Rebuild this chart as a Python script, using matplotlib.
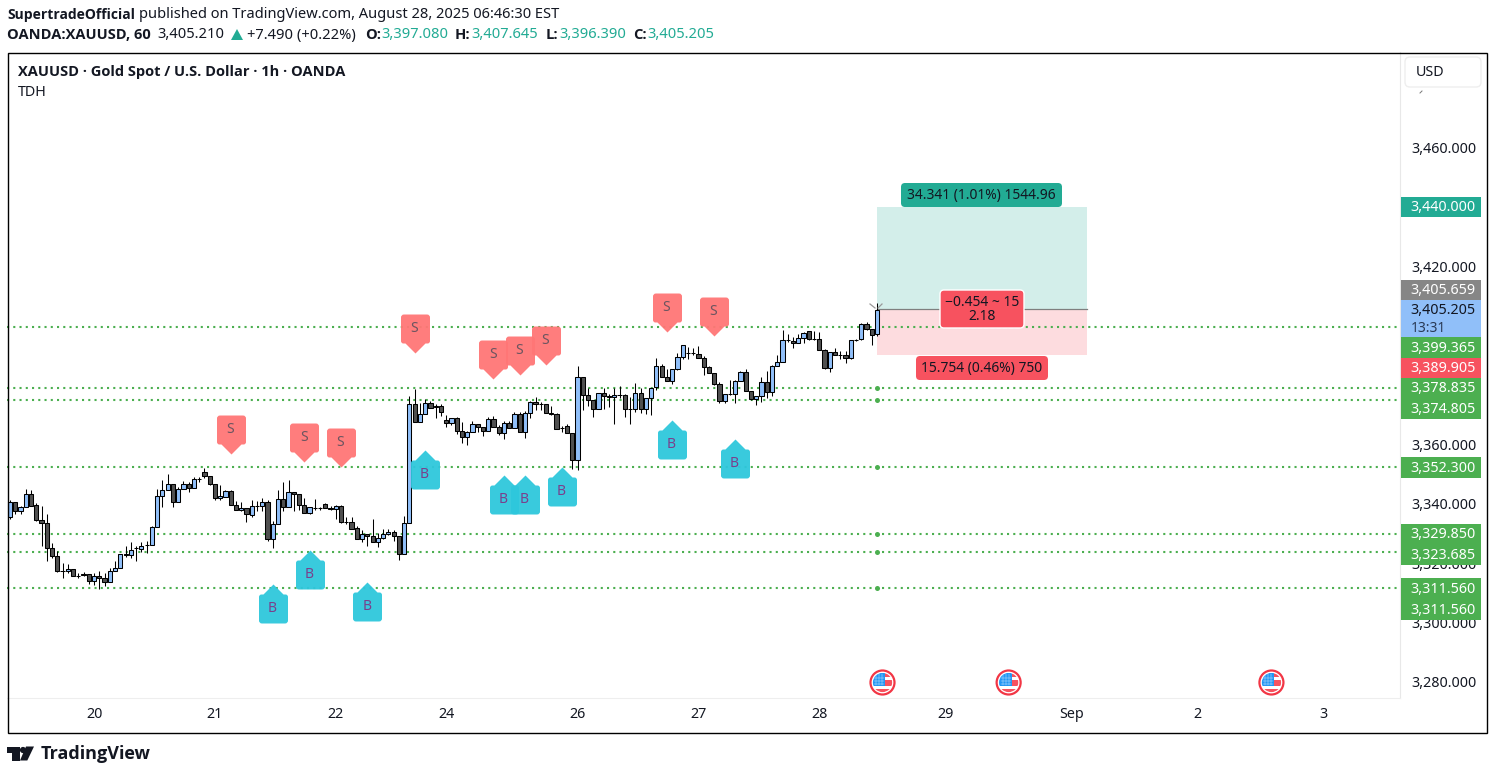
import matplotlib
matplotlib.use("Agg")
import matplotlib.pyplot as plt
from matplotlib.patches import Rectangle, FancyBboxPatch, Circle, Polygon
from matplotlib.path import Path

plt.rcParams['font.family'] = ['Noto Sans', 'DejaVu Sans']

opens = [3335.5,3340.6,3337.5,3338.8,3343.2,3339.5,3334.5,3333.5,3325.1,3322.4,3317.4,3317.4,3318.0,3315.7,3316.4,3316.4,3314.0,3315.7,3315.0,3313.7,3317.4,3318.4,3323.1,3322.8,3325.2,3324.8,3326.1,3326.1,3332.2,3342.6,3344.6,3346.6,3340.6,3344.9,3346.6,3345.3,3348.3,3350.6,3349.3,3346.6,3341.9,3342.2,3344.2,3339.5,
         3337.9,3338.6,3336.2,3339.2,3339.2,3340.6,3328.1,3333.2,3341.6,3338.9,3343.9,3343.3,3339.6,3336.9,3338.7,3338.7,3339.9,3338.6,3338.2,3339.2,3333.7,3333.7,3331.7,3328.1,3329.8,3329.1,3327.1,3328.5,3329.8,3330.5,3329.1,3323.1,3333.5,3373.5,3367.5,3370.1,3373.8,3372.8,3372.8,3368.1,3367.1,3368.8,3364.4,3362.4,
         3364.0,3366.8,3365.8,3364.4,3368.5,3365.8,3363.8,3367.1,3365.5,3370.2,3364.1,3370.5,3374.2,3373.5,3373.5,3370.5,3370.2,3365.5,3366.1,3363.8,3354.7,3382.6,3376.5,3374.9,3371.8,3377.2,3376.2,3375.9,3376.5,3376.5,3371.8,3371.8,3377.2,3371.8,3375.5,3379.2,3386.3,3382.6,3381.2,3385.3,
         3389.3,3390.7,3390.7,3390.3,3389.0,3386.0,3383.9,3380.2,3374.5,3376.9,3376.9,3381.2,3384.3,3377.9,3375.2,3376.2,3380.9,3377.6,3386.3,3387.6,3395.0,3394.7,3394.0,3395.7,3398.0,3395.4,3395.4,3391.7,3385.6,3391.0,3390.0,3390.0,3389.0,3395.0,3395.4,3400.4,3398.7,3397.08]
highs = [3341.4,3340.6,3339.3,3344.9,3344.7,3340.2,3339.2,3336.5,3326.7,3324.1,3320.1,3319.7,3318.0,3316.7,3317.0,3316.4,3316.8,3317.4,3316.7,3318.4,3320.8,3323.1,3325.9,3327.2,3325.8,3327.2,3327.6,3332.5,3344.8,3347.9,3350.0,3346.6,3345.7,3347.7,3347.2,3349.1,3349.1,3352.1,3349.3,3346.6,3346.4,3344.7,3344.6,3341.0,
         3340.5,3338.6,3341.2,3341.0,3341.9,3341.2,3334.3,3344.6,3347.4,3348.1,3343.9,3343.3,3341.9,3338.9,3341.6,3339.0,3340.3,3339.3,3339.6,3339.6,3335.4,3335.4,3332.6,3331.2,3329.8,3334.9,3330.2,3331.5,3331.5,3331.2,3329.1,3335.9,3376.3,3378.5,3373.8,3375.2,3374.6,3373.5,3373.5,3369.8,3369.0,3369.2,3367.5,3364.5,
         3367.9,3366.8,3365.8,3369.3,3369.6,3366.6,3367.9,3367.9,3370.9,3370.9,3371.3,3374.6,3376.0,3374.2,3373.5,3372.8,3370.5,3366.1,3366.8,3363.8,3386.4,3382.6,3379.1,3374.9,3377.2,3379.1,3376.9,3379.1,3379.6,3376.9,3375.8,3380.5,3379.1,3375.5,3378.9,3389.0,3387.0,3385.3,3385.3,3390.9,
         3393.3,3392.6,3392.3,3393.0,3389.8,3386.5,3383.9,3380.9,3376.9,3381.6,3381.6,3384.7,3385.3,3377.9,3376.2,3382.7,3384.7,3386.7,3390.1,3398.4,3397.3,3396.1,3397.0,3397.8,3398.0,3398.2,3397.8,3392.0,3391.0,3392.3,3391.4,3391.4,3395.0,3395.4,3400.7,3401.3,3398.7,3407.645]
lows = [3334.7,3336.4,3336.7,3338.8,3339.2,3334.1,3325.7,3320.8,3321.7,3317.0,3314.9,3316.6,3315.7,3314.9,3315.7,3313.0,3312.7,3311.4,3312.3,3313.7,3317.4,3318.4,3322.2,3321.7,3320.8,3323.6,3323.5,3326.1,3332.2,3338.8,3344.6,3338.8,3340.6,3344.9,3343.8,3345.3,3347.4,3348.6,3346.4,3341.2,3341.2,3342.1,3339.5,3337.9,
        3337.4,3334.0,3335.4,3337.7,3337.7,3327.4,3325.0,3333.2,3337.7,3338.9,3337.4,3338.0,3336.9,3336.5,3337.9,3337.9,3338.6,3337.9,3334.9,3333.6,3333.2,3331.5,3328.1,3327.0,3325.7,3327.1,3325.3,3328.1,3329.3,3327.6,3321.2,3323.1,3333.5,3367.5,3367.5,3370.1,3372.2,3368.7,3369.6,3365.7,3366.4,3363.4,3360.5,3359.7,
        3364.0,3364.0,3362.9,3364.4,3365.8,3363.1,3361.8,3365.5,3365.5,3364.1,3362.0,3369.0,3371.6,3371.6,3370.5,3369.9,3365.1,3364.3,3363.8,3351.7,3351.3,3371.5,3372.8,3369.3,3371.8,3371.8,3372.4,3367.0,3375.5,3369.3,3367.0,3370.9,3370.6,3370.2,3369.9,3378.4,3382.6,3381.2,3380.2,3384.9,
        3388.6,3388.6,3390.1,3389.0,3383.3,3383.9,3379.9,3373.9,3373.9,3376.5,3373.9,3381.2,3377.9,3374.9,3373.4,3374.1,3375.5,3376.2,3386.3,3387.6,3394.6,3392.3,3394.0,3394.0,3395.1,3395.0,3391.7,3385.3,3384.5,3390.0,3388.8,3387.4,3388.8,3394.8,3395.0,3398.4,3393.5,3396.39]
closes = [3340.6,3337.5,3338.8,3343.2,3339.2,3334.5,3333.5,3325.1,3322.4,3317.4,3317.3,3318.0,3315.7,3315.7,3316.0,3314.0,3315.7,3315.0,3313.7,3317.4,3318.4,3323.1,3322.8,3324.4,3325.2,3325.8,3326.1,3332.2,3342.6,3344.6,3346.6,3340.6,3344.9,3346.6,3345.3,3348.3,3348.3,3349.3,3346.6,3341.9,3342.6,3344.2,3339.5,3337.9,
          3338.6,3336.5,3339.2,3339.2,3340.6,3328.1,3333.2,3341.6,3338.9,3343.9,3343.3,3339.6,3336.9,3338.9,3338.7,3338.7,3338.6,3338.2,3339.2,3333.7,3333.7,3331.5,3328.1,3329.8,3329.1,3327.1,3328.5,3329.8,3330.5,3329.1,3323.1,3333.5,3373.5,3367.5,3370.1,3373.8,3372.2,3372.6,3370.8,3367.1,3368.8,3364.4,3362.4,3364.1,
          3366.8,3365.8,3364.4,3368.5,3365.8,3363.8,3367.1,3365.5,3370.2,3364.1,3370.5,3374.2,3373.5,3373.5,3370.5,3370.2,3365.1,3365.5,3363.8,3354.7,3382.6,3376.5,3374.9,3371.8,3377.2,3376.2,3375.9,3376.5,3376.5,3371.8,3371.8,3377.2,3371.8,3375.5,3378.9,3386.3,3382.6,3381.2,3385.3,3389.3,
          3393.3,3390.7,3390.7,3389.0,3386.0,3383.9,3380.2,3374.5,3376.9,3376.9,3381.2,3384.3,3377.9,3375.2,3376.2,3380.9,3377.6,3386.3,3387.6,3395.0,3395.0,3394.0,3395.7,3397.4,3395.4,3395.4,3391.7,3385.6,3391.0,3390.0,3390.0,3389.0,3395.0,3395.0,3400.4,3398.7,3396.7,3405.205]

day_bars = [16, 39, 62, 83, 108, 131, 154, 178, 202, 226, 250]
day_labels = ['20', '21', '22', '24', '26', '27', '28', '29', 'Sep', '2', '3']
price_ticks = [3460, 3420, 3360, 3340, 3320, 3300, 3280]

level_prices = [3399.365, 3378.835, 3374.805, 3352.3, 3329.85, 3323.685, 3311.56]
entry_bar = 165
entry_price = 3405.659
target_price = 3440.0
stop_price = 3389.905
box_end_bar = 205

sell_bars = [42, 56, 63, 77, 92, 97, 102, 125, 134]
sell_tips = [3356.7, 3354.0, 3352.4, 3390.7, 3382.0, 3383.3, 3386.7, 3397.8, 3396.4]
buy_bars = [50, 57, 68, 79, 94, 98, 105, 126, 138]
buy_tips = [3312.9, 3324.4, 3313.6, 3358.1, 3349.7, 3349.7, 3352.4, 3368.2, 3361.8]
event_bars = [166, 190, 240]

tag_texts = ['3,440.000', '3,405.659', '3,405.205', '3,399.365', '3,389.905', '3,378.835',
             '3,374.805', '3,352.300', '3,329.850', '3,323.685', '3,311.560', '3,311.560']
tag_colors = ['#22ab94', '#868686', '#90bff9', '#4caf50', '#f7525f', '#4caf50',
              '#4caf50', '#4caf50', '#4caf50', '#4caf50', '#4caf50', '#4caf50']
tag_tops = [197, 280, 300, 337, 358, 378, 398, 457, 524, 544, 578, 599]
tag_bottoms = [217, 300, 337, 358, 378, 398, 419, 478, 544, 565, 599, 620]

GREEN = '#4caf50'
TEAL = '#22ab94'
RED = '#f7525f'
S_COL = '#ff7676'
B_COL = '#2ec7dc'
TXT = '#131722'
BOLD = 'Open Sans'

fig = plt.figure(figsize=(14.94, 7.76), dpi=100)

# pixel overlay for page furniture
pg = fig.add_axes([0, 0, 1, 1], zorder=3)
pg.set_xlim(0, 1494)
pg.set_ylim(776, 0)
pg.axis('off')
pg.patch.set_alpha(0)

# chart pane, x..1400 y 52..698
ax = fig.add_axes([7 / 1494, 1 - 698 / 776, 1393 / 1494, 646 / 776], zorder=2)
ax.set_xlim(-0.57, 264.5)
ax.set_ylim(3274.58, 3492.09)
for s in ax.spines.values():
    s.set_visible(False)
ax.spines['right'].set_visible(True)
ax.spines['right'].set_color('#e8e8e8')
ax.spines['bottom'].set_visible(True)
ax.spines['bottom'].set_color('#eeeeee')

ax.yaxis.tick_right()
ax.set_yticks(price_ticks)
ax.set_yticklabels([f'{p:,.3f}' for p in price_ticks], fontsize=10.3, color=TXT)
ax.set_xticks(day_bars)
ax.set_xticklabels(day_labels, fontsize=10.3, color=TXT)
ax.tick_params(axis='both', length=0)
ax.tick_params(axis='y', pad=7.9)
ax.tick_params(axis='x', pad=6.5)

# position tool
ax.add_patch(Rectangle((entry_bar, entry_price), box_end_bar - entry_bar, target_price - entry_price,
                       facecolor='#d3eeea', edgecolor='none', zorder=1))
ax.add_patch(Rectangle((entry_bar, stop_price), box_end_bar - entry_bar, entry_price - stop_price,
                       facecolor='#fddcdf', edgecolor='none', zorder=1))
ax.plot([entry_bar, box_end_bar], [entry_price, entry_price], color='#7f7f7f', lw=0.9, zorder=2)

# horizontal levels
for p in level_prices:
    ax.axhline(p, color=GREEN, lw=1.5, linestyle=(0, (1, 2)), zorder=2)
    if p != level_prices[0]:
        ax.plot(entry_bar, p, 'o', color=GREEN, ms=3.6, mew=0, zorder=2)

# candles
for i in range(len(opens)):
    up = closes[i] >= opens[i]
    ax.plot([i, i], [lows[i], highs[i]], color='black', lw=0.75, zorder=3, solid_capstyle='butt')
    bottom = min(opens[i], closes[i])
    ax.bar(i, abs(closes[i] - opens[i]), bottom=bottom, width=0.8,
           color='#90bff9' if up else '#505050', edgecolor='black', linewidth=0.75, zorder=4)

# S/B pins, tip at the origin, in pixels
sell_pin = Path(
    [(0, 0), (-10, 10), (-12, 10), (-14.5, 10), (-14.5, 12.5), (-14.5, 36), (-14.5, 39), (-11.5, 39),
     (11.5, 39), (14.5, 39), (14.5, 36), (14.5, 12.5), (14.5, 10), (12, 10), (10, 10), (0, 0)],
    [Path.MOVETO, Path.LINETO, Path.LINETO, Path.CURVE3, Path.CURVE3, Path.LINETO, Path.CURVE3, Path.CURVE3,
     Path.LINETO, Path.CURVE3, Path.CURVE3, Path.LINETO, Path.CURVE3, Path.CURVE3, Path.LINETO, Path.CLOSEPOLY])
buy_pin = Path([(x, -y) for x, y in sell_pin.vertices], sell_pin.codes)
pin_size = 39 * 0.72 * 2

ax.plot(sell_bars, sell_tips, ls='none', marker=sell_pin, ms=pin_size, mfc=S_COL, mew=0, alpha=0.95, zorder=6)
ax.plot(buy_bars, buy_tips, ls='none', marker=buy_pin, ms=pin_size, mfc=B_COL, mew=0, alpha=0.95, zorder=6)
for b, p in zip(sell_bars, sell_tips):
    ax.annotate('S', (b, p), xytext=(-0.5, 17.5), textcoords='offset points', ha='center', va='center',
                fontsize=10, color='#6d5560', zorder=7)
for b, p in zip(buy_bars, buy_tips):
    ax.annotate('B', (b, p), xytext=(-0.5, -17.5), textcoords='offset points', ha='center', va='center',
                fontsize=10, color='#7a3f8c', zorder=7)

# entry chevron on the last candle
pg.plot([870, 875], [304, 308], color='#999999', lw=0.9)
pg.plot([882, 878], [304, 308], color='#999999', lw=0.9)


def box(x0, y0, x1, y1, color, edge='none', r=4, z=5):
    pg.add_patch(FancyBboxPatch((x0 + r, y0 + r), x1 - x0 - 2 * r, y1 - y0 - 2 * r,
                                boxstyle=f'round,pad={r},rounding_size={r}',
                                facecolor=color, edgecolor=edge, linewidth=1, zorder=z))


box(901, 183, 1062, 207, TEAL)
pg.text(981.5, 195.5, '34.341 (1.01%) 1544.96', ha='center', va='center', fontsize=10, color=TXT, zorder=6)
box(940, 290, 1024, 328, RED, edge='white')
pg.text(982, 302.5, '\u22120.454 ~ 15', ha='center', va='center', fontsize=10, color=TXT, zorder=6)
pg.text(982, 316.5, '2.18', ha='center', va='center', fontsize=10, color=TXT, zorder=6)
box(916, 356, 1048, 380, RED)
pg.text(982, 368.5, '15.754 (0.46%) 750', ha='center', va='center', fontsize=10, color=TXT, zorder=6)

# price tags
for txt, col, t, b in zip(tag_texts, tag_colors, tag_tops, tag_bottoms):
    pg.add_patch(Rectangle((1401, t), 80, b - t, facecolor=col, edgecolor='none', zorder=4))
    if txt == '3,405.205':
        pg.text(1443, t + 10.5, txt, ha='center', va='center', fontsize=10.3, color=TXT, zorder=5)
        pg.text(1411, t + 28, '13:31', ha='left', va='center', fontsize=10, color='#2a3a55', zorder=5)
    else:
        pg.text(1443, (t + b) / 2 + 0.7, txt, ha='center', va='center', fontsize=10.3, color='white', zorder=5)

# currency button
box(1405, 57, 1481, 87, 'white', edge='#eeeeee', r=5)
pg.text(1416, 72, 'USD', ha='left', va='center', fontsize=10.3, color=TXT, zorder=6)
pg.plot([1420, 1422], [93, 91], color='#777777', lw=0.7)

# outer frame
pg.add_patch(Rectangle((7.5, 52.5), 1479, 680, facecolor='none', edgecolor='black', linewidth=1, zorder=8))

# event flags
for b in event_bars:
    cx = 10 + 5.256 * b
    cy = 682.5
    pg.add_patch(Circle((cx, cy), 12, facecolor='white', edgecolor='#f23645', linewidth=1.6, zorder=5))
    clip = Circle((cx, cy), 9.6, transform=pg.transData)
    parts = [Rectangle((cx - 10, cy - 10), 13, 13, facecolor='#2196f3', edgecolor='none', zorder=6),
             Rectangle((cx + 3, cy - 10), 8, 4, facecolor='#f7525f', edgecolor='none', zorder=6),
             Rectangle((cx + 3, cy - 3), 8, 6, facecolor='#f7525f', edgecolor='none', zorder=6),
             Rectangle((cx - 10, cy + 6), 20, 5, facecolor='#f7525f', edgecolor='none', zorder=6)]
    for r in parts:
        pg.add_patch(r)
        r.set_clip_path(clip)
    for k in range(3):
        line, = pg.plot([cx - 8, cx + 2], [cy - 5 + 3 * k] * 2, color='#dfefff', lw=0.3, zorder=7)
        line.set_clip_path(clip)
        line, = pg.plot([cx - 6 + 3 * k] * 2, [cy - 9, cy + 2], color='#dfefff', lw=0.3, zorder=7)
        line.set_clip_path(clip)

# titles
pg.text(18, 72, 'XAUUSD \u00b7 Gold Spot / U.S. Dollar \u00b7 1h \u00b7 OANDA', ha='left', va='center',
        fontsize=10.5, family=BOLD, fontweight='bold', color=TXT)
pg.text(18, 92, 'TDH', ha='left', va='center', fontsize=10.3, color=TXT)

pg.text(7, 15, 'SupertradeOfficial', ha='left', va='center', fontsize=10, family=BOLD, fontweight='bold', color=TXT)
pg.text(139, 15, 'published on TradingView.com, August 28, 2025 06:46:30 EST', ha='left', va='center',
        fontsize=10.55, color=TXT)
pg.text(7, 35, 'OANDA:XAUUSD, 60', ha='left', va='center', fontsize=10.5, family=BOLD, fontweight='bold', color=TXT)
pg.text(157, 35, '3,405.210', ha='left', va='center', fontsize=10.6, color=TXT)
pg.add_patch(Polygon([(231, 40), (243, 40), (237, 29)], facecolor=TEAL, edgecolor='none'))
pg.text(247, 35, '+7.490 (+0.22%)', ha='left', va='center', fontsize=10.6, color=TXT)
for lab, lx, val, vx in [('O:', 365, '3,397.080', 381.5), ('H:', 455, '3,407.645', 471.5),
                         ('L:', 546, '3,396.390', 559), ('C:', 633, '3,405.205', 647)]:
    pg.text(lx, 35, lab, ha='left', va='center', fontsize=10.6, family=BOLD, fontweight='bold', color=TXT)
    pg.text(vx, 35, val, ha='left', va='center', fontsize=10.6, color=TEAL)

# logo
pg.add_patch(Polygon([(7, 746.5), (19.5, 746.5), (19.5, 760.5), (12, 760.5), (12, 752.5), (7, 752.5)],
                     facecolor=TXT, edgecolor='none'))
pg.add_patch(Circle((23, 750), 3.1, facecolor=TXT, edgecolor='none'))
pg.add_patch(Polygon([(26, 746.5), (34, 746.5), (27.3, 760.5), (20, 760.5)], facecolor=TXT, edgecolor='none'))
pg.text(41, 754, 'TradingView', ha='left', va='center', fontsize=13, family=BOLD, fontweight='bold', color=TXT)

fig.savefig('out.png', dpi=100)
